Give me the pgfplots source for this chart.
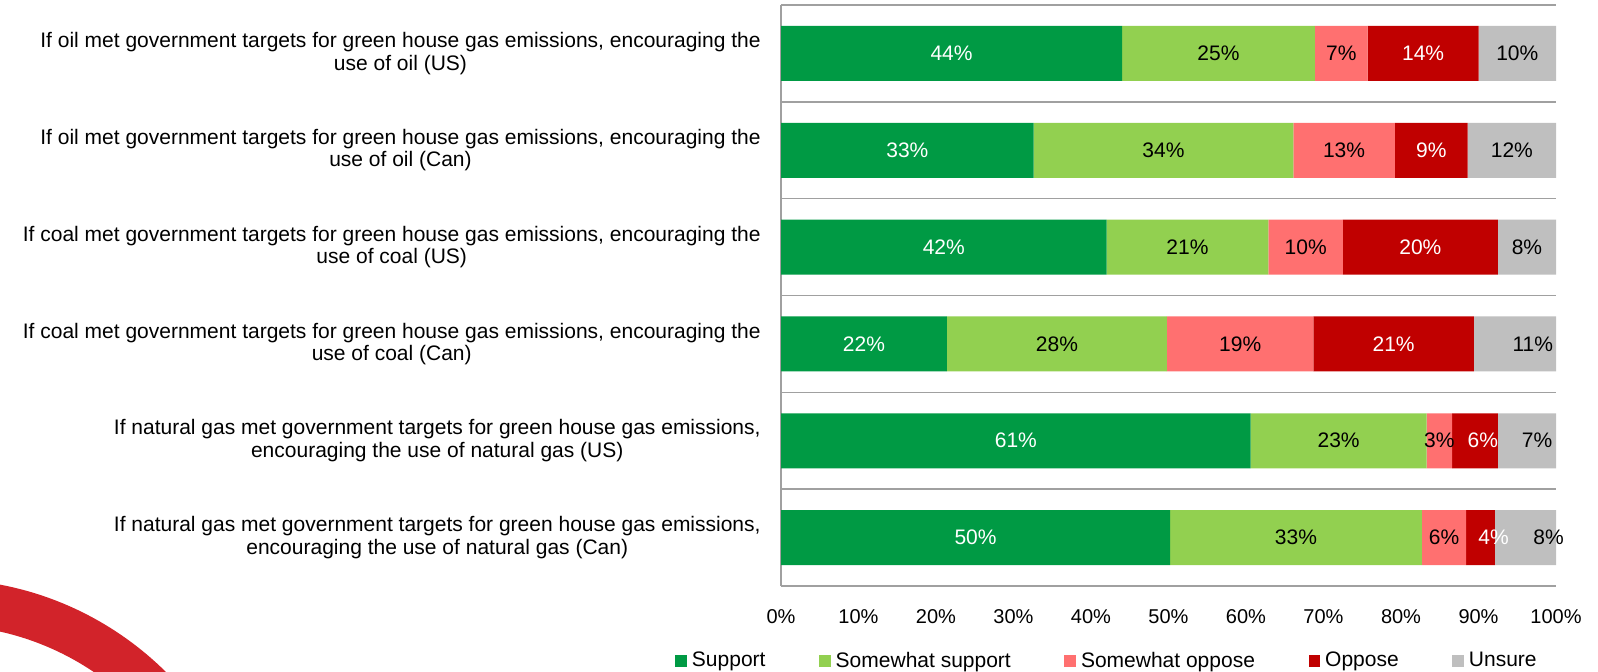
\documentclass[border=0pt]{standalone}
\usepackage{pgfplots}
\pgfplotsset{compat=1.18}
\usepackage{pgfplotstable}
\usepackage{fontspec}
\setmainfont{Liberation Sans}

\definecolor{cSup}{RGB}{0,154,68}
\definecolor{cSSup}{RGB}{146,208,80}
\definecolor{cSOpp}{RGB}{255,112,112}
\definecolor{cOpp}{RGB}{192,0,0}
\definecolor{cUns}{RGB}{191,191,191}
\definecolor{cGrid}{RGB}{160,160,160}
\definecolor{logored}{RGB}{210,35,42}

% c = row from the bottom; segment lengths, printed labels,
% and the small nudges some labels have in the original
\pgfplotstableread{
c sup  ssup sopp opp  uns  lsup lssup lsopp lopp luns dopp duns
6 44.0 24.9 6.8  14.3 10.0 44   25    7     14   10   0    0
5 32.6 33.5 13.1 9.4  11.4 33   34    13    9    12   0    0
4 42.0 20.9 9.6  20.0 7.5  42   21    10    20   8    0    0
3 21.4 28.4 18.9 20.7 10.6 22   28    19    21   11   0    2.3
2 60.6 22.7 3.3  5.9  7.5  61   23    3     6    7    1.0  1.3
1 50.2 32.5 5.7  3.7  7.9  50   33    6     4    8    1.7  3.0
}\survey

\pgfplotsset{
  frame/.style={at={(390.5pt,-293pt)}, anchor=south west,
    scale only axis, width=387.5pt, height=290.5pt,
    xmin=0, xmax=100, ymin=0.5, ymax=6.5, enlargelimits=false,
    font=\fontsize{10.5}{11.2}\selectfont},
}

\begin{document}
\begin{tikzpicture}
\path[use as bounding box] (0,0) rectangle (799pt,-335.5pt);
\begin{axis}[%
frame,
xbar stacked,
bar width=0.568,
axis line style={draw=none},
major tick length=0pt,
tick style={draw=none},
xtick={0,10,...,100},
xticklabels={0\%,10\%,20\%,30\%,40\%,50\%,60\%,70\%,80\%,90\%,100\%},
xticklabel style={inner sep=0pt, yshift=-11.8pt, font=\fontsize{10}{11}\selectfont},
ytick={1,...,6},
yticklabels={%
{If natural gas met government targets for green house gas emissions,\\encouraging the use of natural gas (Can)},
{If natural gas met government targets for green house gas emissions,\\encouraging the use of natural gas (US)},
{If coal met government targets for green house gas emissions, encouraging the\\use of coal (Can)},
{If coal met government targets for green house gas emissions, encouraging the\\use of coal (US)},
{If oil met government targets for green house gas emissions, encouraging the\\use of oil (Can)},
{If oil met government targets for green house gas emissions, encouraging the\\use of oil (US)}},
yticklabel style={align=center, inner sep=0pt, xshift=-10pt},
extra y ticks={0.5,1.5,2.5,3.5,4.5,5.5,6.5},
extra y tick labels={},
extra y tick style={grid=major},
extra x ticks={0},
extra x tick labels={},
extra x tick style={grid=major},
major grid style={cGrid, line width=0.8pt},
legend columns=-1,
legend cell align=left,
legend style={at={(axis description cs:-0.1368,-0.129)}, anchor=west,
  draw=none, fill=none, inner sep=0pt,
  nodes={inner sep=1pt},
  /tikz/every even column/.append style={column sep=25.8pt}},
legend image code/.code={\fill[#1,draw=none] (0pt,-2.9pt) rectangle (5.8pt,2.9pt);
  \path (7.3pt,0pt);},
]
\addplot[fill=cSup, draw=none] table[x=sup, y=c] {\survey};
\addplot[fill=cSSup, draw=none] table[x=ssup, y=c] {\survey};
\addplot[fill=cSOpp, draw=none] table[x=sopp, y=c] {\survey};
\addplot[fill=cOpp, draw=none] table[x=opp, y=c] {\survey};
\addplot[fill=cUns, draw=none] table[x=uns, y=c] {\survey};
\legend{Support,Somewhat support,Somewhat oppose,Oppose,Unsure}
\end{axis}
% value labels in each segment
\begin{axis}[%
frame,
hide axis,
point meta=explicit symbolic,
nodes near coords={\pgfplotspointmeta\%},
every node near coord/.append style={anchor=center, inner sep=0pt},
]
\addplot[draw=none, mark=none, nodes near coords style={text=white}]
  table[x expr={\thisrow{sup}/2}, y=c, meta=lsup] {\survey};
\addplot[draw=none, mark=none, nodes near coords style={text=black}]
  table[x expr={\thisrow{sup}+\thisrow{ssup}/2}, y=c, meta=lssup] {\survey};
\addplot[draw=none, mark=none, nodes near coords style={text=black}]
  table[x expr={\thisrow{sup}+\thisrow{ssup}+\thisrow{sopp}/2}, y=c, meta=lsopp] {\survey};
\addplot[draw=none, mark=none, nodes near coords style={text=white}]
  table[x expr={\thisrow{sup}+\thisrow{ssup}+\thisrow{sopp}+\thisrow{opp}/2+\thisrow{dopp}}, y=c, meta=lopp] {\survey};
\addplot[draw=none, mark=none, nodes near coords style={text=black}]
  table[x expr={100-\thisrow{uns}/2+\thisrow{duns}}, y=c, meta=luns] {\survey};
\end{axis}
% logo arc in the corner
\begin{scope}
\clip (0,0) rectangle (799pt,-335.5pt);
\fill[logored, even odd rule] (-30pt,-450pt) circle (160.5pt) (-30pt,-450pt) circle (137.5pt);
\end{scope}
\end{tikzpicture}
\end{document}
